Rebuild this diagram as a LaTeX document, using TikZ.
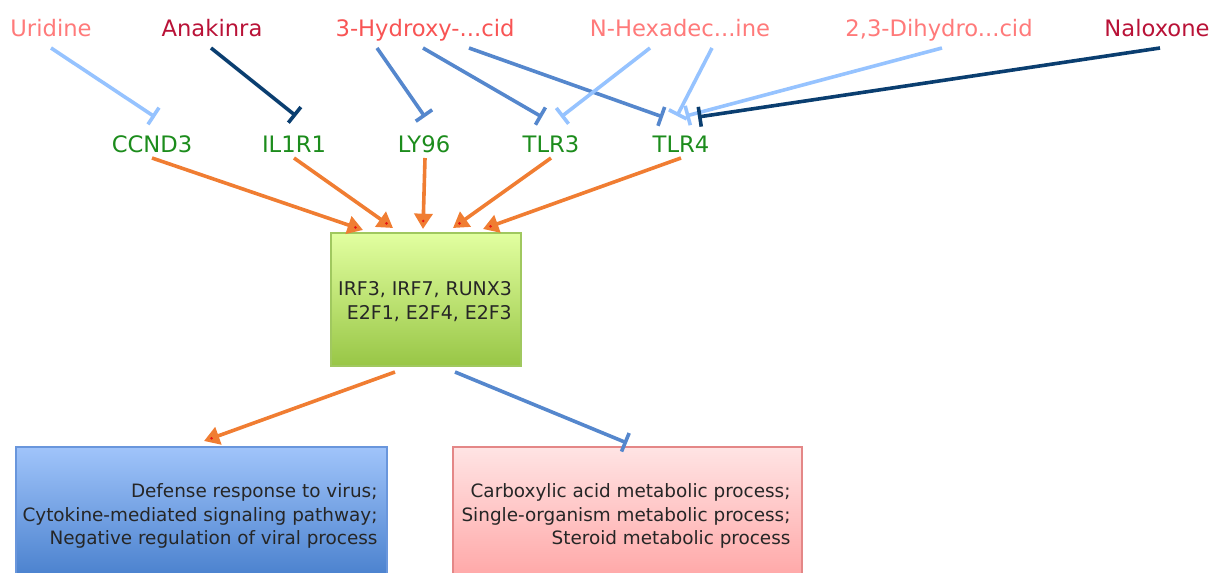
\documentclass[tikz,border=0pt]{standalone}
\usepackage{fontspec}
\setmainfont{DejaVu Sans}
\usetikzlibrary{arrows.meta,calc}

\definecolor{drugLight}{RGB}{255,122,122}
\definecolor{drugMid}{RGB}{248,84,84}
\definecolor{drugDark}{RGB}{185,18,55}
\definecolor{geneGreen}{RGB}{28,140,28}
\definecolor{inhLight}{RGB}{150,195,255}
\definecolor{inhMid}{RGB}{85,135,205}
\definecolor{inhDark}{RGB}{10,62,112}
\definecolor{actOrange}{RGB}{240,125,50}
\definecolor{tipRed}{RGB}{230,20,20}

\tikzset{
  drug/.style={font=\fontsize{17}{20}\selectfont, inner sep=0pt, anchor=base},
  gene/.style={font=\fontsize{17}{20}\selectfont, inner sep=0pt, anchor=base, text=geneGreen},
  inh/.style={line width=2.7pt, -{Bar[width=15pt,line width=2.7pt]}},
  act/.style={line width=2.7pt, draw=actOrange, -{Triangle[length=11.5pt,width=13.5pt,fill=actOrange]}},
  tipdot/.style={fill=tipRed},
  boxtext/.style={font=\fontsize{14.2}{18}\selectfont, align=right, text=black!85, inner sep=0pt},
  proctext/.style={boxtext, font=\fontsize{13.8}{17.8}\selectfont},
  tfbox/.style={draw={rgb,255:red,160;green,200;blue,95}, line width=0.8pt,
    top color={rgb,255:red,226;green,255;blue,160}, bottom color={rgb,255:red,152;green,198;blue,70},
    minimum width=142.5pt, minimum height=99.75pt, inner sep=0pt},
  upbox/.style={draw={rgb,255:red,105;green,150;blue,220}, line width=0.8pt,
    top color={rgb,255:red,160;green,196;blue,250}, bottom color={rgb,255:red,70;green,126;blue,204},
    minimum width=278.25pt, minimum height=102pt, inner sep=0pt},
  downbox/.style={draw={rgb,255:red,228;green,135;blue,135}, line width=0.8pt,
    top color={rgb,255:red,255;green,228;blue,228}, bottom color={rgb,255:red,255;green,165;blue,165},
    minimum width=261.75pt, minimum height=102pt, inner sep=0pt},
}

\begin{document}
\begin{tikzpicture}[x=0.75pt,y=-0.75pt]
\useasboundingbox (0,0) rectangle (1213,573);
\clip (0,0) rectangle (1213,573);

% drugs
\node[drug, text=drugLight] (uri)  at (51,37)   {Uridine};
\node[drug, text=drugDark]  (ana)  at (212,37)  {Anakinra};
\node[drug, text=drugMid]   (hyd)  at (425,37)  {3-Hydroxy-...cid};
\node[drug, text=drugLight] (nhex) at (680,37)  {N-Hexadec...ine};
\node[drug, text=drugLight] (dih)  at (939,37)  {2,3-Dihydro...cid};
\node[drug, text=drugDark]  (nal)  at (1157,37) {Naloxone};

% genes
\node[gene] (ccnd) at (152,153) {CCND3};
\node[gene] (il1)  at (294,153) {IL1R1};
\node[gene] (ly96) at (424,153) {LY96};
\node[gene] (tlr3) at (551,153) {TLR3};
\node[gene] (tlr4) at (681,153) {TLR4};

% boxes
\node[tfbox] (tf) at (426,299.5) {};
\node[boxtext] (tft) at (425,302) {IRF3, IRF7, RUNX3\\E2F1, E2F4, E2F3};
\node[upbox] (up) at (201.5,515) {};
\node[proctext] (upt) at (200,516) {Defense response to virus;\\Cytokine-mediated signaling pathway;\\Negative regulation of viral process};
\node[downbox] (dn) at (627.5,515) {};
\node[proctext] (dnt) at (626,516) {Carboxylic acid metabolic process;\\Single-organism metabolic process;\\Steroid metabolic process};

% connector end points
\coordinate (uri-s)  at (51,48);   \coordinate (ccnd-i) at (155,117);
\coordinate (ana-s)  at (211,48);  \coordinate (il1-i)  at (296,116);
\coordinate (hyd-a)  at (377,48);  \coordinate (ly96-i) at (425,117);
\coordinate (hyd-b)  at (423,48);  \coordinate (tlr3-a) at (542,117);
\coordinate (hyd-c)  at (469,48);  \coordinate (tlr4-a) at (663,117);
\coordinate (nhex-a) at (650,48);  \coordinate (tlr3-b) at (561,117);
\coordinate (nhex-b) at (712,48);  \coordinate (tlr4-b) at (677,116);
\coordinate (dih-s)  at (942,48);  \coordinate (tlr4-c) at (686,116);
\coordinate (nal-s)  at (1160,48); \coordinate (tlr4-d) at (698,117);

\coordinate (ccnd-o) at (152,158); \coordinate (tf-1) at (363,230);
\coordinate (il1-o)  at (294,158); \coordinate (tf-2) at (393,228);
\coordinate (ly96-o) at (425,158); \coordinate (tf-3) at (423,229);
\coordinate (tlr3-o) at (551,158); \coordinate (tf-4) at (453,228);
\coordinate (tlr4-o) at (681,158); \coordinate (tf-5) at (483,229);

\coordinate (tf-oa) at (395,372); \coordinate (up-i) at (204,441);
\coordinate (tf-ob) at (455,372); \coordinate (dn-i) at (627,443);

% inhibitions drug -> gene
\draw[inh, inhLight] (uri-s)  -- (ccnd-i);
\draw[inh, inhDark]  (ana-s)  -- (il1-i);
\draw[inh, inhMid]   (hyd-a)  -- (ly96-i);
\draw[inh, inhMid]   (hyd-b)  -- (tlr3-a);
\draw[inh, inhMid]   (hyd-c)  -- (tlr4-a);
\draw[inh, inhLight] (nhex-a) -- (tlr3-b);
\draw[inh, inhLight] (nhex-b) -- (tlr4-b);
\draw[inh, inhLight] (dih-s)  -- (tlr4-c);
\draw[inh, inhDark]  (nal-s)  -- (tlr4-d);

% activations gene -> transcription factors
\foreach \s/\t in {ccnd-o/tf-1, il1-o/tf-2, ly96-o/tf-3, tlr3-o/tf-4, tlr4-o/tf-5}{
  \draw[act] (\s) -- (\t);
  \fill[tipdot] ($(\t)!6pt!(\s)$) circle (1.1pt);
}

% transcription factors -> processes
\draw[act] (tf-oa) -- (up-i);
\fill[tipdot] ($(up-i)!6pt!(tf-oa)$) circle (1.1pt);
\draw[inh, inhMid] (tf-ob) -- (dn-i);
\end{tikzpicture}
\end{document}
